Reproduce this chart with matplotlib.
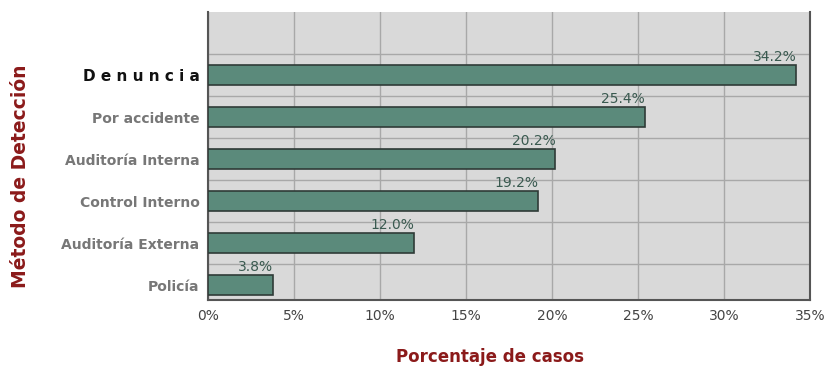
import matplotlib.pyplot as plt

metodos = ['D e n u n c i a', 'Por accidente', 'Auditoría Interna', 'Control Interno',
           'Auditoría Externa', 'Policía']
porcentajes = [34.2, 25.4, 20.2, 19.2, 12.0, 3.8]
etiquetas = ['34.2%', '25.4%', '20.2%', '19.2%', '12.0%', '3.8%']
ticks_x = [0, 5, 10, 15, 20, 25, 30, 35]

fig = plt.figure(figsize=(8.25, 3.79), dpi=100)
ax = fig.add_axes([0.252, 0.208, 0.730, 0.760])
ax.set_facecolor('#d9d9d9')

ypos = [5, 4, 3, 2, 1, 0]
ax.barh(ypos, porcentajes, height=0.48, color='#5b8a7b', edgecolor='#2f3b37',
        linewidth=1.2, zorder=3)
for y, v, t in zip(ypos, porcentajes, etiquetas):
    ax.text(v, y + 0.27, t, ha='right', va='bottom', fontsize=10,
            color='#3a5a50', zorder=4)

ax.set_xlim(0, 35)
ax.set_ylim(-0.36, 6.5)
ax.set_xticks(ticks_x)
ax.set_xticklabels([f'{t}%' for t in ticks_x], fontsize=10, color='#444444')
ax.set_yticks(ypos)
ax.set_yticklabels(metodos)
for i, l in enumerate(ax.get_yticklabels()):
    l.set_fontweight('bold')
    l.set_color('#111111' if i == 0 else '#777777')
    l.set_fontsize(11 if i == 0 else 10)
ax.tick_params(length=0, pad=6)

# grid between bars
ax.set_yticks([0.5, 1.5, 2.5, 3.5, 4.5, 5.5], minor=True)
ax.grid(True, which='major', axis='x', color='#a8a8a8', linewidth=1, zorder=1)
ax.grid(True, which='minor', axis='y', color='#a8a8a8', linewidth=1, zorder=1)
ax.tick_params(which='minor', length=0)

for s in ax.spines.values():
    s.set_color('#555555')
    s.set_linewidth(1.5)
ax.spines['top'].set_visible(False)

ax.set_xlabel('Porcentaje de casos', fontsize=12, color='#8b1a1a',
              fontweight='bold')
ax.xaxis.set_label_coords(0.468, -0.165)
fig.text(0.025, 0.535, 'Método de Detección', rotation=90, fontsize=13.5,
         color='#8b1a1a', fontweight='bold', ha='center', va='center')

fig.savefig('out.png', dpi=100)
